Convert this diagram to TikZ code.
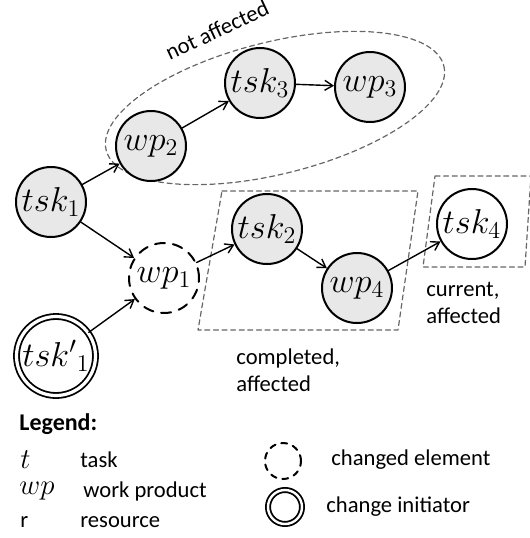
\documentclass[tikz,border=0pt]{standalone}
\usepackage{fontspec}
\setmainfont{Carlito}
\usetikzlibrary{arrows.meta}
\tikzset{
	elem/.style={circle, draw, line width=1pt, minimum size=35pt, inner sep=0pt, font=\fontsize{17}{20}\selectfont},
	done/.style={elem, fill=gray!18},
	changed/.style={elem, dash pattern=on 5pt off 4pt},
	initiator/.style={elem, double, line width=0.9pt, double distance=1.6pt, minimum size=39.5pt},
	flow/.style={->, line width=0.7pt},
	zone/.style={draw=gray!80!black, line width=0.6pt, dash pattern=on 2.5pt off 1.8pt},
	lbl/.style={inner sep=0pt, anchor=west, align=left}
}
\begin{document}
\begin{tikzpicture}[x=0.5pt, y=-0.5pt, >={Straight Barb[length=4pt,width=5pt]}, line join=round, line cap=round, font=\fontsize{11.3}{13.6}\selectfont]
				\useasboundingbox (0,0) rectangle (530,538);
				% zones
				\draw[zone, rotate around={14:(275,108)}] (275,108) ellipse [x radius=174, y radius=66];
				\draw[zone] (222,191)--(418,191)--(398,330)--(198,330)--cycle;
				\draw[zone] (435,176)--(531,176)--(525,267)--(423,267)--cycle;
				% elements
				\node[done] (tsk1) at (51,202) {$tsk_1$};
				\node[done] (wp2) at (151,146) {$wp_2$};
				\node[done] (tsk3) at (260,83) {$tsk_3$};
				\node[done] (wp3) at (370,87) {$wp_3$};
				\node[changed] (wp1) at (164,278) {$wp_1$};
				\node[done] (tsk2) at (267,229) {$tsk_2$};
				\node[done] (wp4) at (357,288) {$wp_4$};
				\node[elem] (tsk4) at (472,224) {$tsk_4$};
				\node[initiator] (tskp1) at (56,356) {$tsk'{}_1$};
				% flows
				\draw[flow] (tsk1)--(wp2);
				\draw[flow] (wp2)--(tsk3);
				\draw[flow] (tsk3)--(wp3);
				\draw[flow] (tsk1)--(wp1);
				\draw[flow] (tskp1)--(wp1);
				\draw[flow] (wp1)--(tsk2);
				\draw[flow] (tsk2)--(wp4);
				\draw[flow] (wp4)--(tsk4);
				% zone labels
				\node[rotate=25] (nota) at (217,30) {not affected};
				\node[lbl] (compl) at (236,370) {completed,\\affected};
				\node[lbl] (curr) at (426,303) {current,\\affected};
				% legend
				\node[lbl, font=\fontsize{12}{14}\selectfont\bfseries] (leg) at (19,424) {Legend:};
				\node[lbl, font=\fontsize{15}{18}\selectfont] (kt) at (20,460) {$t$};
				\node[lbl] (vt) at (80,460) {task};
				\node[lbl, font=\fontsize{15}{18}\selectfont] (kwp) at (19,491) {$wp$};
				\node[lbl] (vwp) at (83,491) {work product};
				\node[lbl] (kr) at (20,522) {r};
				\node[lbl] (vr) at (80,522) {resource};
				\node[elem, minimum size=18pt, dash pattern=on 3pt off 3pt] (kch) at (283,461) {};
				\node[lbl] (vch) at (331,460) {changed element};
				\node[elem, double, line width=0.9pt, double distance=1.2pt, minimum size=17pt] (kin) at (285,507) {};
				\node[lbl] (vin) at (326,507) {change initiator};
			\end{tikzpicture}
\end{document}
